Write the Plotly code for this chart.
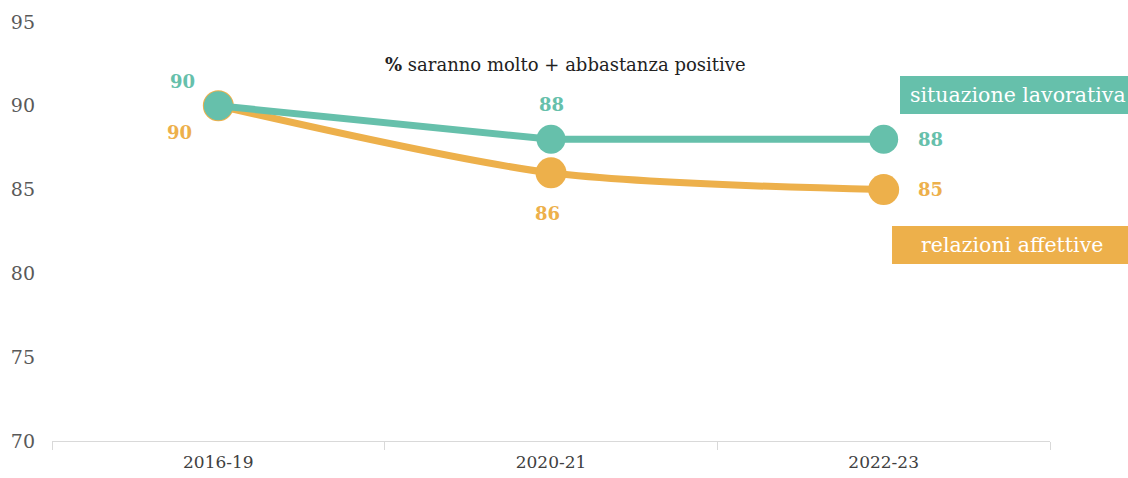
import plotly.graph_objects as go

categories = ["2016-19", "2020-21", "2022-23"]
lavoro = [90, 88, 88]
affetti = [90, 86, 85]
y_ticks = [70, 75, 80, 85, 90, 95]

TEAL = "#66C0AB"
ORANGE = "#EDB04B"
FONT = "DejaVu Serif"

fig = go.Figure()
fig.add_trace(go.Scatter(x=categories, y=affetti, mode="lines+markers",
                         line=dict(color=ORANGE, width=7, shape="spline", smoothing=0.8),
                         marker=dict(size=31, color=ORANGE), showlegend=False, cliponaxis=False))
fig.add_trace(go.Scatter(x=categories, y=lavoro, mode="lines+markers",
                         line=dict(color=TEAL, width=7, shape="linear"),
                         marker=dict(size=29, color=TEAL), showlegend=False, cliponaxis=False))

def lab(x, y, color, dx, dy):
    return dict(x=x, y=y, text="<b>%d</b>" % y, showarrow=False, xshift=dx, yshift=dy,
                font=dict(family=FONT, size=18, color=color))

ann = [
    lab(categories[0], lavoro[0], TEAL, -36, 24),
    lab(categories[1], lavoro[1], TEAL, 0, 35),
    lab(categories[2], lavoro[2], TEAL, 47, 0),
    lab(categories[0], affetti[0], ORANGE, -39, -27),
    lab(categories[1], affetti[1], ORANGE, -4, -41),
    lab(categories[2], affetti[2], ORANGE, 47, 0),
]
# title
ann.append(dict(x=0.515, y=1.0, xref="paper", yref="paper", yanchor="top", yshift=-30,
                text="<b>%</b> saranno molto + abbastanza positive", showarrow=False,
                font=dict(family=FONT, size=18, color="#222222")))
# legend boxes text
ann.append(dict(x=0.858, y=90.65, xref="paper", yref="y", xanchor="left",
                text="situazione lavorativa", showarrow=False,
                font=dict(family=FONT, size=20.5, color="white")))
ann.append(dict(x=0.962, y=81.7, xref="paper", yref="y", xanchor="center",
                text="relazioni affettive", showarrow=False,
                font=dict(family=FONT, size=20.5, color="white")))

shapes = [
    dict(type="rect", xref="paper", yref="y", x0=0.8497, x1=1.09, y0=89.51, y1=91.78,
         fillcolor=TEAL, line=dict(width=0), layer="below"),
    dict(type="rect", xref="paper", yref="y", x0=0.8417, x1=1.09, y0=80.56, y1=82.83,
         fillcolor=ORANGE, line=dict(width=0), layer="below"),
]

fig.update_layout(
    width=1128, height=478,
    margin=dict(l=52, r=78, t=22, b=37),
    paper_bgcolor="white", plot_bgcolor="white",
    annotations=ann, shapes=shapes,
    xaxis=dict(type="category", range=[-0.5, 2.5], showgrid=False, showline=True,
               automargin=False,
               linecolor="#D9D9D9", linewidth=1, ticks="outside", tickson="boundaries",
               ticklen=8, tickcolor="#D9D9D9", ticklabelstandoff=6,
               tickfont=dict(family=FONT, size=17, color="#404040")),
    yaxis=dict(range=[70, 95], tickvals=y_ticks, showgrid=False, zeroline=False,
               automargin=False,
               showline=False, ticks="", ticklabelstandoff=16,
               tickfont=dict(family=FONT, size=19, color="#595959")),
)

fig.write_html("out.html", config={"displayModeBar": False},
               post_script="document.body.style.margin='0';document.body.style.overflow='hidden';")
